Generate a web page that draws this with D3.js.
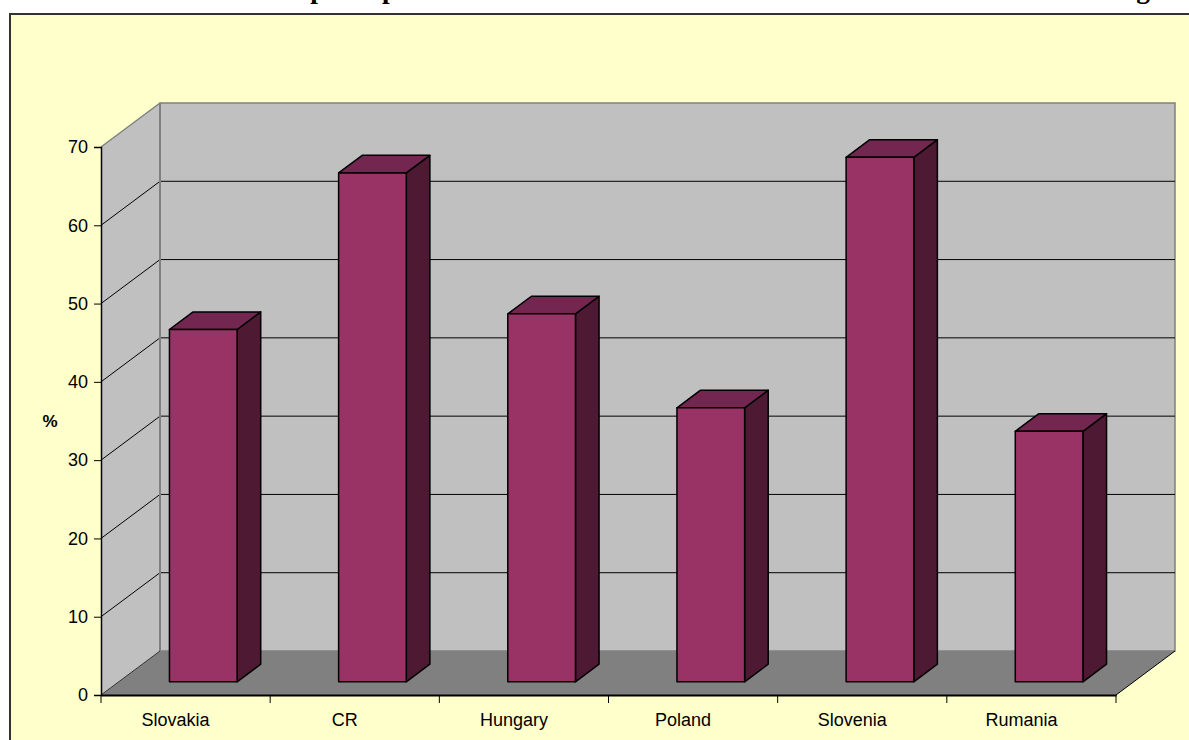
<!DOCTYPE html>
<html>
<head>
<meta charset="utf-8">
<script src="https://cdn.jsdelivr.net/npm/d3@7"></script>
<style>
  body { margin: 0; background: #fff; }
  svg { display: block; }
  text { font-family: Arial, "Liberation Sans", sans-serif; }
</style>
</head>
<body>
<svg id="chart"></svg>
<script>
'use strict';

var categories = ['Slovakia', 'CR', 'Hungary', 'Poland', 'Slovenia', 'Rumania'];
var values = [45, 65, 47, 35, 67, 32];
var yTicks = [0, 10, 20, 30, 40, 50, 60, 70];
var title = 'Picture No. 5: The level of per capita GDP in the CEE candidate countries in relation to EU average';

var width = 1189,
  height = 740,
  front = {'left': 101, 'right': 1116, 'top': 147, 'bottom': 695},
  depth = {'dx': 59, 'dy': -44},
  barFront = 0.3, barBack = 0.7, barWidth = 0.4;

var svg = d3.select('#chart')
  .attr('width', width)
  .attr('height', height);

var xScale = d3.scaleBand()
  .domain(categories)
  .range([front.left, front.right]);
var yScale = d3.scaleLinear()
  .domain([0, 70])
  .range([front.bottom, front.top]);

// shift a point back into the depth by fraction f
function back(p, f) { return [p[0] + depth.dx * f, p[1] + depth.dy * f]; }
function pts(a) { return a.map(function (p) { return p.join(','); }).join(' '); }

// title, mostly cut off by the top edge as in the scan
var tt = svg.append('text')
  .attr('x', 1162)
  .attr('y', -2)
  .attr('text-anchor', 'end')
  .style('font-family', '"Liberation Serif", "Times New Roman", serif')
  .style('font-weight', 'bold')
  .style('font-size', '22px')
  .text(title);
// size it so it runs from the left edge to x = 1162
var tw = tt.node().getComputedTextLength();
tt.style('font-size', (22 * 1162 / tw) + 'px');

// chart area
svg.append('rect')
  .attr('x', 10).attr('y', 14)
  .attr('width', 1200).attr('height', 760)
  .attr('fill', '#FFFFCC')
  .attr('stroke', '#333')
  .attr('stroke-width', 2);

var y0 = yScale(0), yTop = yScale(70);
var bl = [front.left, y0], tl = [front.left, yTop];
var br = [front.right, y0];

// left wall
svg.append('polygon')
  .attr('points', pts([tl, back(tl, 1), back(bl, 1), bl]))
  .attr('fill', '#C0C0C0');
// back wall
svg.append('polygon')
  .attr('points', pts([back(tl, 1), back([front.right, yTop], 1), back(br, 1), back(bl, 1)]))
  .attr('fill', '#C0C0C0')
  .attr('stroke', '#808080')
  .attr('stroke-width', 1.5);
// floor
svg.append('polygon')
  .attr('points', pts([bl, br, back(br, 1), back(bl, 1)]))
  .attr('fill', '#808080');

// gridlines
var grid = yTicks.filter(function (t) { return t > 0 && t < 70; });
svg.selectAll('line.gridback').data(grid).enter()
  .append('line')
  .attr('x1', front.left + depth.dx).attr('x2', front.right + depth.dx)
  .attr('y1', function (d) { return yScale(d) + depth.dy; })
  .attr('y2', function (d) { return yScale(d) + depth.dy; })
  .attr('stroke', '#000').attr('stroke-width', 1);
svg.selectAll('line.gridside').data(grid).enter()
  .append('line')
  .attr('x1', front.left).attr('x2', front.left + depth.dx)
  .attr('y1', function (d) { return yScale(d); })
  .attr('y2', function (d) { return yScale(d) + depth.dy; })
  .attr('stroke', '#000').attr('stroke-width', 1);

// left wall top edge and back wall left edge
svg.append('line')
  .attr('x1', tl[0]).attr('y1', tl[1])
  .attr('x2', back(tl, 1)[0]).attr('y2', back(tl, 1)[1])
  .attr('stroke', '#808080').attr('stroke-width', 1.5);
svg.append('line')
  .attr('x1', back(tl, 1)[0]).attr('y1', back(tl, 1)[1])
  .attr('x2', back(bl, 1)[0]).attr('y2', back(bl, 1)[1])
  .attr('stroke', '#808080').attr('stroke-width', 2);

// floor edges
svg.append('line')
  .attr('x1', br[0]).attr('y1', br[1])
  .attr('x2', back(br, 1)[0]).attr('y2', back(br, 1)[1])
  .attr('stroke', '#000').attr('stroke-width', 1);
svg.append('line')
  .attr('x1', bl[0]).attr('y1', bl[1])
  .attr('x2', back(bl, 1)[0]).attr('y2', back(bl, 1)[1])
  .attr('stroke', '#333').attr('stroke-width', 1);

// bars
var bw = xScale.bandwidth() * barWidth;
svg.selectAll('g.bar').data(values).enter()
  .append('g')
  .classed('bar', true)
  .each(function (v, i) {
    var g = d3.select(this);
    var cx = xScale(categories[i]) + xScale.bandwidth() / 2;
    var fbl = back([cx - bw / 2, y0], barFront),
      fbr = back([cx + bw / 2, y0], barFront),
      ftl = back([cx - bw / 2, yScale(v)], barFront),
      ftr = back([cx + bw / 2, yScale(v)], barFront);
    var d = barBack - barFront;
    var bbr = back(fbr, d), btl = back(ftl, d), btr = back(ftr, d);

    g.append('polygon')
      .attr('points', pts([fbr, ftr, btr, bbr]))
      .attr('fill', '#4D1933');
    g.append('polygon')
      .attr('points', pts([ftl, ftr, btr, btl]))
      .attr('fill', '#732650');
    g.append('polygon')
      .attr('points', pts([fbl, fbr, ftr, ftl]))
      .attr('fill', '#993366');
    g.selectAll('polygon')
      .attr('stroke', '#000')
      .attr('stroke-width', 1.5)
      .attr('stroke-linejoin', 'round');
  });

// y axis
var yAxis = d3.axisLeft(yScale)
  .tickValues(yTicks)
  .tickSize(7)
  .tickPadding(6);
var ya = svg.append('g')
  .attr('transform', 'translate(' + front.left + ',0)')
  .call(yAxis);
ya.select('.domain').attr('stroke', '#000').attr('stroke-width', 1.5);
ya.selectAll('.tick line').attr('stroke', '#000');
ya.selectAll('.tick text')
  .style('font-family', 'Arial, "Liberation Sans", sans-serif')
  .style('font-size', '18px')
  .attr('fill', '#000');

// x axis
var xAxis = d3.axisBottom(xScale).tickSize(0).tickPadding(0);
var xa = svg.append('g')
  .attr('transform', 'translate(0,' + y0 + ')')
  .call(xAxis);
xa.select('.domain').attr('stroke', '#000').attr('stroke-width', 2);
xa.selectAll('.tick text')
  .attr('x', -10)
  .attr('y', 31)
  .attr('dy', 0)
  .style('font-family', 'Arial, "Liberation Sans", sans-serif')
  .style('font-size', '18px')
  .attr('fill', '#000');
var bounds = categories.map(function (c) { return xScale(c); }).concat([front.right]);
xa.selectAll('line.cat').data(bounds).enter()
  .append('line')
  .attr('x1', function (d) { return d; })
  .attr('x2', function (d) { return d; })
  .attr('y1', 0).attr('y2', 8)
  .attr('stroke', '#000');

// y axis label
svg.append('text')
  .attr('x', 50)
  .attr('y', (front.top + front.bottom) / 2 + 6)
  .attr('text-anchor', 'middle')
  .style('font-weight', 'bold')
  .style('font-size', '17px')
  .text('%');
</script>
</body>
</html>
